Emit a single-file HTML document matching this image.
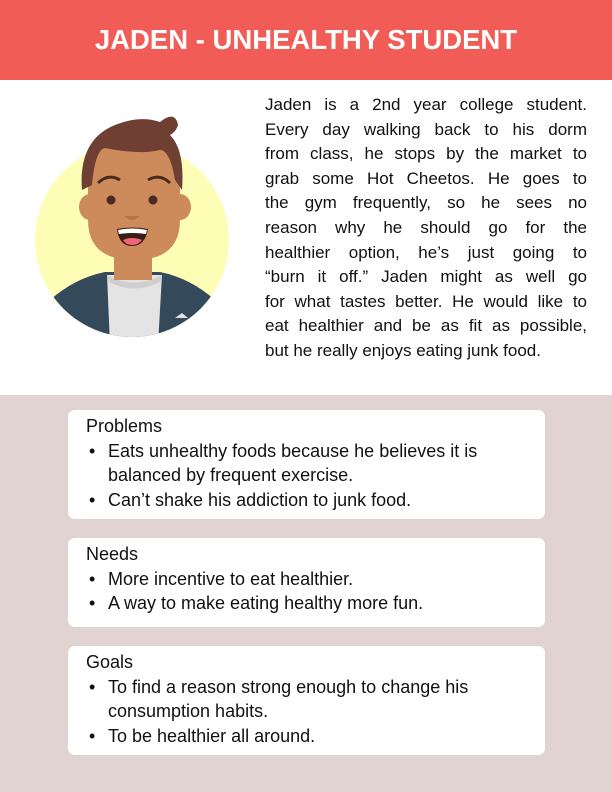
<!DOCTYPE html>
<html><head><meta charset="utf-8">
<style>
*{margin:0;padding:0;box-sizing:border-box}
body{width:612px;height:792px;position:relative;background:#e2d3d3;font-family:"Liberation Sans",sans-serif;color:#111;overflow:hidden}
#hdr{position:absolute;left:0;top:0;width:612px;height:80px;background:#f25c56;color:#fff;font-weight:bold;font-size:27.5px;text-align:center;line-height:80px}
#top{position:absolute;left:0;top:80px;width:612px;height:315px;background:#fff}
#avatar{position:absolute;left:30px;top:110px}
#bio{position:absolute;left:265px;top:93px;width:322px;font-size:17px;line-height:24.6px}
#bio span{display:block;text-align:justify;text-align-last:justify;white-space:nowrap}
#bio span.last{text-align-last:left}
.card{position:absolute;left:68px;width:477px;background:#fff;border-radius:7px;padding:4px 0 0 18px;font-size:18px;line-height:24.5px}
.card ul{list-style:none}
.card li{position:relative;padding-left:22px}
.card li:before{content:"•";position:absolute;left:3px}
</style></head><body>
<div id="hdr">JADEN - UNHEALTHY STUDENT</div>
<div id="top"></div>
<svg id="avatar" width="210" height="235" viewBox="0 0 210 235">
<defs><clipPath id="c"><circle cx="102" cy="130" r="97"/></clipPath></defs>
<circle cx="102" cy="130" r="97" fill="#fdfdb6"/>
<g clip-path="url(#c)">
<path d="M0 235 L20 190 Q45 168 75 162 L130 162 Q160 168 185 190 L205 235 Z" fill="#34495a"/>
<path d="M77 165 L132 165 L128 235 L80 235 Z" fill="#e4e4e4"/>
<path d="M77 165 Q104 180 132 165 L130 172 Q104 185 79 172 Z" fill="#cfcfcf"/>
<path d="M145 208 L152 203 L158 208 Z" fill="#e0e0e0"/>
</g>
<rect x="84" y="125" width="38" height="45" fill="#cd8a5a"/>
<rect x="84" y="138" width="38" height="8" fill="#b3744a"/>
<ellipse cx="60" cy="97" rx="11" ry="13" fill="#cd8a5a"/>
<ellipse cx="150" cy="97" rx="11" ry="13" fill="#cd8a5a"/>
<path d="M58 45 Q60 25 104 25 Q148 25 150 50 L150 110 Q150 150 104 150 Q58 150 58 110 Z" fill="#cd8a5a"/>
<path d="M52 80 Q48 30 85 15 Q110 5 130 12 Q145 0 148 15 Q146 22 140 25 Q155 40 152 80 L145 70 Q140 40 130 40 Q110 45 75 38 Q65 40 62 75 Z" fill="#6f3f33"/>
<path d="M68 73 Q78 63 90 70" stroke="#4a2a20" stroke-width="3" fill="none"/>
<path d="M118 70 Q130 63 140 73" stroke="#4a2a20" stroke-width="3" fill="none"/>
<circle cx="81" cy="90" r="4.5" fill="#4a2a20"/>
<circle cx="123" cy="90" r="4.5" fill="#4a2a20"/>
<path d="M94 106 Q102 114 110 106 Z" fill="#b3744a"/>
<path d="M87 119 Q103 116 118 119 Q115 136 102 136 Q89 136 87 119 Z" fill="#3a1d17"/>
<path d="M88 120 Q103 117 117 120 L116 124 Q103 122 89 124 Z" fill="#fff"/>
<path d="M93 130 Q102 126 112 130 Q108 135 102 135 Q96 135 93 130 Z" fill="#f0657a"/>
</svg>
<div id="bio">
<span>Jaden is a 2nd year college student.</span>
<span>Every day walking back to his dorm</span>
<span>from class, he stops by the market to</span>
<span>grab some Hot Cheetos. He goes to</span>
<span>the gym frequently, so he sees no</span>
<span>reason why he should go for the</span>
<span>healthier option, he’s just going to</span>
<span>“burn it off.” Jaden might as well go</span>
<span>for what tastes better. He would like to</span>
<span>eat healthier and be as fit as possible,</span>
<span class="last">but he really enjoys eating junk food.</span>
</div>
<div class="card" style="top:410px;height:109px">
<div>Problems</div>
<ul><li>Eats unhealthy foods because he believes it is<br>balanced by frequent exercise.</li>
<li>Can’t shake his addiction to junk food.</li></ul>
</div>
<div class="card" style="top:538px;height:89px">
<div>Needs</div>
<ul><li>More incentive to eat healthier.</li>
<li>A way to make eating healthy more fun.</li></ul>
</div>
<div class="card" style="top:646px;height:109px">
<div>Goals</div>
<ul><li>To find a reason strong enough to change his<br>consumption habits.</li>
<li>To be healthier all around.</li></ul>
</div>
</body></html>
